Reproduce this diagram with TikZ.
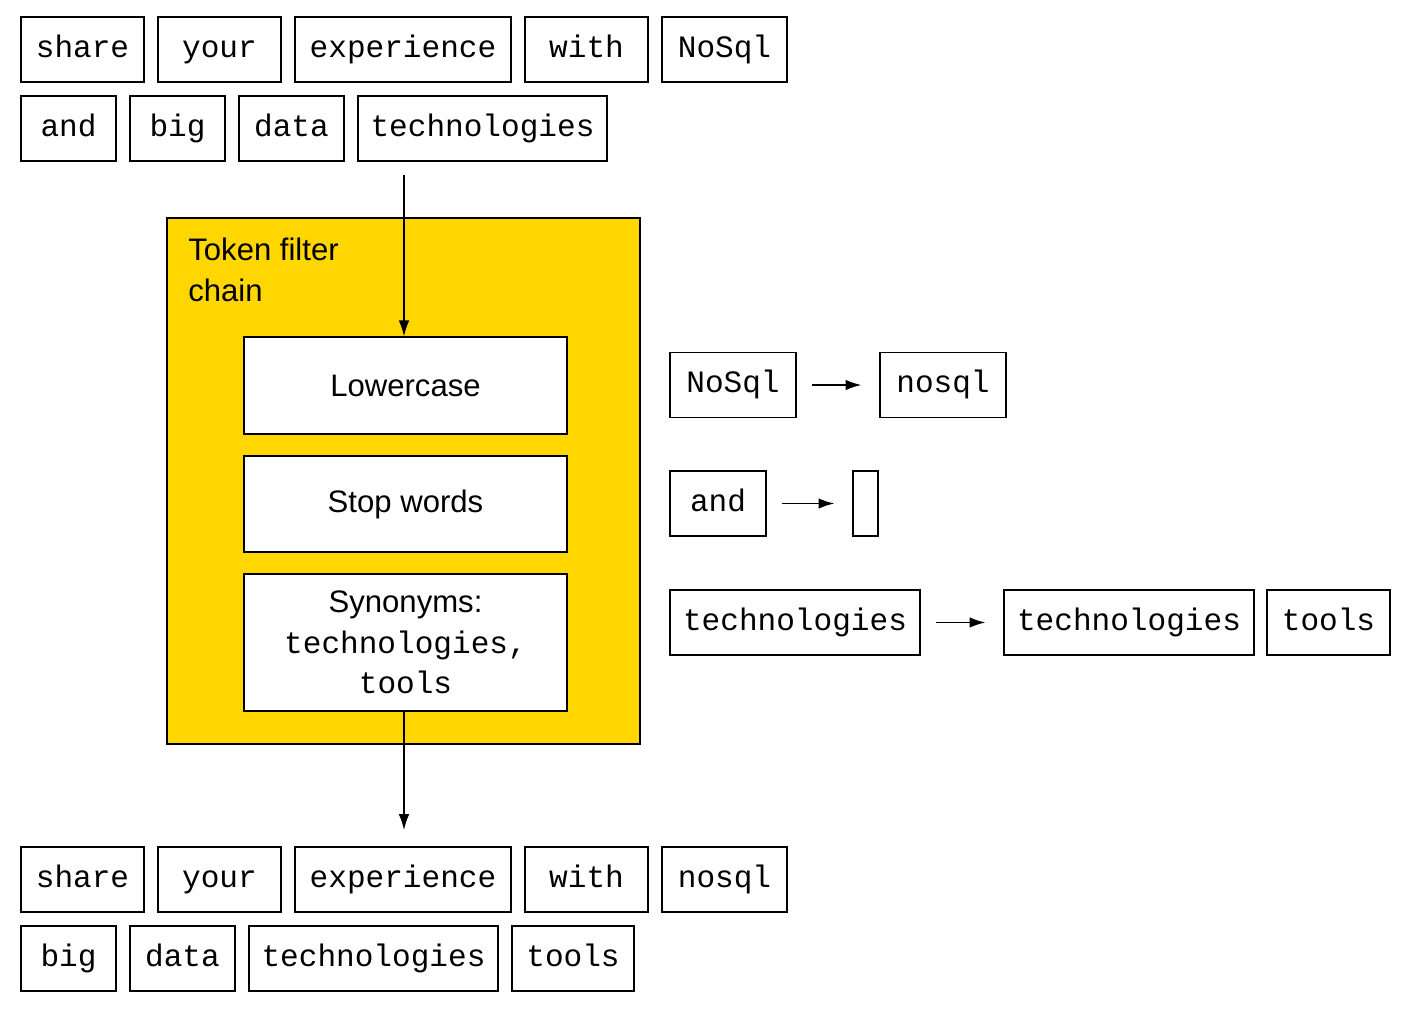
\documentclass[tikz,border=0pt]{standalone}
\usepackage{fontspec}
\setmainfont{Liberation Sans}
\setmonofont{Liberation Mono}
\usetikzlibrary{arrows.meta}
\definecolor{chainyellow}{RGB}{255,214,0}

\begin{document}
\begin{tikzpicture}
[x=0.02cm,y=-0.02cm,
token/.style={draw,line width=0.8pt,fill=white,inner sep=0pt,
  minimum height=1.3cm,text height=12.8pt,text depth=4pt,
  font=\ttfamily\fontsize{17.7}{21}\selectfont},
filter/.style={draw,line width=0.8pt,fill=white,inner sep=0pt,
  minimum width=6.46cm,align=center,
  font=\fontsize{17.7}{23}\selectfont},
flow/.style={line width=0.8pt,-{Latex[length=9pt,width=6pt]}},
map/.style={flow,shorten <=0.3cm,shorten >=0.36cm}]

\useasboundingbox (0,0) rectangle (1416,1010);

% input tokens
\node (in1) [token,minimum width=2.46cm] at (82.5,49.5) {share};
\node (in2) [token,minimum width=2.46cm] at (219.5,49.5) {your};
\node (in3) [token,minimum width=4.32cm] at (403,49.5) {experience};
\node (in4) [token,minimum width=2.46cm] at (586.5,49.5) {with};
\node (in5) [token,minimum width=2.5cm] at (724.5,49.5) {NoSql};
\node (in6) [token,minimum width=1.9cm] at (68.5,128.5) {and};
\node (in7) [token,minimum width=1.9cm] at (177.5,128.5) {big};
\node (in8) [token,minimum width=2.1cm] at (291.5,128.5) {data};
\node (in9) [token,minimum width=4.98cm] at (482.5,128.5) {technologies};

% filter chain
\draw [line width=0.8pt,fill=chainyellow] (167,218) rectangle (640,744);
\node (chain) [anchor=north west,align=left,inner sep=0pt,
  font=\fontsize{17.7}{23}\selectfont] at (188,238) {Token filter\\chain};
\node (low) [filter,minimum height=1.94cm] at (405.5,385.5) {Lowercase};
\node (stop) [filter,minimum height=1.92cm] at (405.5,504) {Stop words};
\node (syn) [filter,minimum height=2.74cm] at (405.5,642.5)
  {Synonyms:\\\ttfamily technologies,\\\ttfamily tools};

\coordinate (src) at (404,175);
\coordinate (dst) at (404,830);
\draw [flow] (src) -- (low.north -| src);
\draw [flow] (syn.south -| dst) -- (dst);

% examples
\node (ex1) [token,minimum width=2.52cm] at (733,385) {NoSql};
\node (ex1b) [token,minimum width=2.52cm] at (943,385) {nosql};
\draw [map] (ex1) -- (ex1b);
\node (ex2) [token,minimum width=1.92cm] at (718,503.5) {and};
\node (ex2b) [token,minimum width=0.5cm] at (865.5,503.5) {};
\draw [map] (ex2) -- (ex2b);
\node (ex3) [token,minimum width=5cm] at (795,622.5) {technologies};
\node (ex3b) [token,minimum width=5cm] at (1129,622.5) {technologies};
\node (ex3c) [token,minimum width=2.46cm] at (1328.5,622.5) {tools};
\draw [map] (ex3) -- (ex3b);

% output tokens
\node (out1) [token,minimum width=2.46cm] at (82.5,879.5) {share};
\node (out2) [token,minimum width=2.46cm] at (219.5,879.5) {your};
\node (out3) [token,minimum width=4.32cm] at (403,879.5) {experience};
\node (out4) [token,minimum width=2.46cm] at (586.5,879.5) {with};
\node (out5) [token,minimum width=2.5cm] at (724.5,879.5) {nosql};
\node (out6) [token,minimum width=1.9cm] at (68.5,958.5) {big};
\node (out7) [token,minimum width=2.1cm] at (182.5,958.5) {data};
\node (out8) [token,minimum width=4.98cm] at (373.5,958.5) {technologies};
\node (out9) [token,minimum width=2.44cm] at (573,958.5) {tools};
\end{tikzpicture}
\end{document}
